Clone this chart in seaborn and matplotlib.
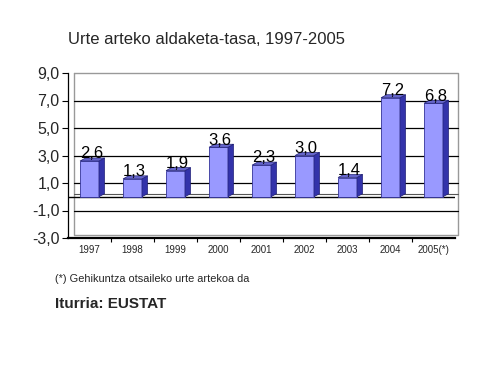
import matplotlib
matplotlib.use("Agg")
import matplotlib.pyplot as plt
from matplotlib.patches import Polygon
import seaborn as sns
import pandas as pd

years = ["1997", "1998", "1999", "2000", "2001", "2002", "2003", "2004", "2005(*)"]
values = [2.6, 1.3, 1.9, 3.6, 2.3, 3.0, 1.4, 7.2, 6.8]
value_labels = ["2,6", "1,3", "1,9", "3,6", "2,3", "3,0", "1,4", "7,2", "6,8"]
yticks = [-3, -1, 1, 3, 5, 7, 9]
ytick_labels = ["-3,0", "-1,0", "1,0", "3,0", "5,0", "7,0", "9,0"]
title = "Urte arteko aldaketa-tasa, 1997-2005"
footnote = "(*) Gehikuntza otsaileko urte artekoa da"
source = "Iturria: EUSTAT"

sns.set_theme(style="white")
plt.rcParams['font.family'] = ['Liberation Sans', 'DejaVu Sans']

df = pd.DataFrame({"year": years, "value": values})

fig = plt.figure(figsize=(4.86, 3.78), dpi=100)
ax = fig.add_axes([68/486, 1-238/378, 387/486, 165/378])

sns.barplot(data=df, x="year", y="value", color="#9999ff", width=0.44,
            saturation=1, edgecolor="#333399", linewidth=0.6, ax=ax, zorder=3)

ax.set_ylim(-3, 9)
ax.set_xlim(-0.5, len(years) - 0.5)

dx, dy = 0.13, 0.22
# back wall
x_left = -0.5 + dx
x_right = len(years) - 0.5 + 0.07
ax.plot([x_left, x_left, x_right, x_right, x_left], [9, -3 + dy, -3 + dy, 9, 9],
        color="#999999", lw=1.0, zorder=1, clip_on=False)
for g in [-1, 1, 3, 5, 7]:
    ax.plot([x_left, x_right], [g, g], color="black", lw=0.9, zorder=1, clip_on=False)
ax.plot([-0.5, len(years) - 0.5], [0, 0], color="black", lw=1.0, zorder=2)
ax.plot([x_left, x_right], [dy, dy], color="#555555", lw=0.8, zorder=1, clip_on=False)

for p, lab in zip(ax.patches, value_labels):
    x0 = p.get_x()
    x1 = x0 + p.get_width()
    h = p.get_height()
    side = Polygon([(x1, 0), (x1 + dx, dy), (x1 + dx, h + dy), (x1, h)], closed=True,
                   facecolor="#3333aa", edgecolor="#222277", lw=0.5, zorder=3)
    top = Polygon([(x0, h), (x0 + dx, h + dy), (x1 + dx, h + dy), (x1, h)], closed=True,
                  facecolor="#6666cc", edgecolor="#222277", lw=0.5, zorder=3)
    ax.add_patch(side)
    ax.add_patch(top)
    ax.text(x0 + p.get_width() / 2 + 0.04, h - 0.02, lab, ha="center", va="bottom",
            fontsize=12, color="black", zorder=5)

ax.set_yticks(yticks)
ax.set_yticklabels(ytick_labels, fontsize=11.5)
ax.set_xticks(range(len(years)))
ax.set_xticklabels(years, fontsize=7)
ax.set_xlabel("")
ax.set_ylabel("")
ax.tick_params(axis="y", length=4, width=0.8, color="black", pad=2, direction="out", left=True)
ax.tick_params(axis="x", length=0, pad=5)
ax.set_xticks([i + 0.5 for i in range(len(years) - 1)], minor=True)
ax.tick_params(axis="x", which="minor", length=3, width=0.8, color="black", bottom=True)

for s in ["top", "right"]:
    ax.spines[s].set_visible(False)
ax.spines["left"].set_color("black")
ax.spines["left"].set_linewidth(0.9)
ax.spines["bottom"].set_color("black")
ax.spines["bottom"].set_linewidth(1.6)
ax.patch.set_alpha(0)

fig.text(68/486, 1-40/378, title, fontsize=12, ha="left", va="center")
fig.text(55/486, 1-279/378, footnote, fontsize=7.9, ha="left", va="center")
fig.text(55/486, 1-304/378, source, fontsize=11, fontweight="bold", ha="left", va="center")

fig.savefig("out.png", dpi=100)
